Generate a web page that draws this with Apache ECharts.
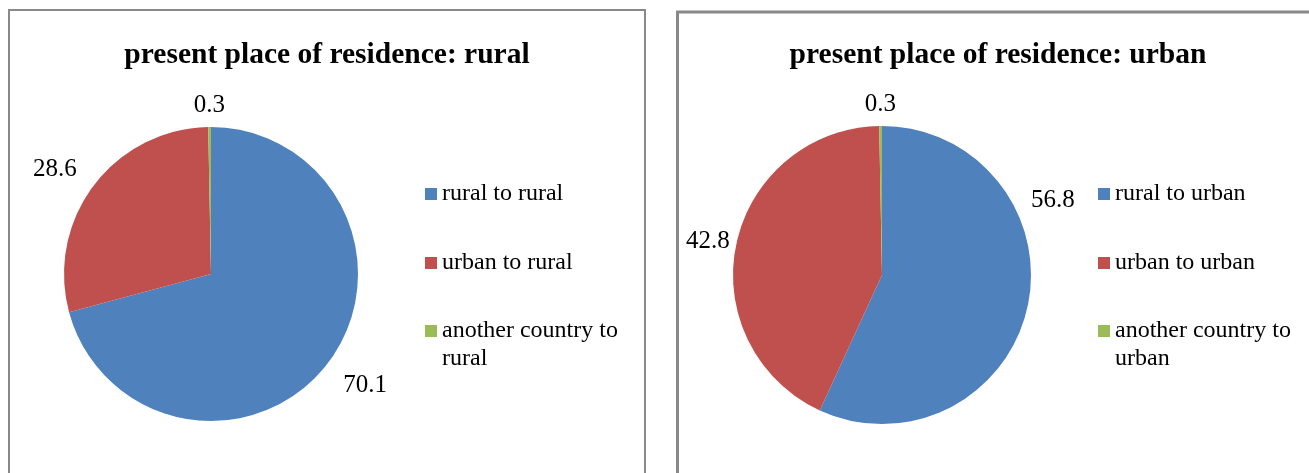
<!DOCTYPE html>
<html>
<head>
<meta charset="utf-8">
<title>present place of residence</title>
<script src="https://cdn.jsdelivr.net/npm/echarts@6/dist/echarts.min.js"></script>
<style>
  html, body { margin: 0; padding: 0; background: #fff; }
  #chart { width: 1309px; height: 473px; }
</style>
</head>
<body>
<div id="chart"></div>
<script>
const ruralNames = ['rural to rural', 'urban to rural', 'another country to rural'];
const ruralValues = [70.1, 28.6, 0.3];
const urbanNames = ['rural to urban', 'urban to urban', 'another country to urban'];
const urbanValues = [56.8, 42.8, 0.3];
const titles = ['present place of residence: rural', 'present place of residence: urban'];

const colors = ['#4f81bd', '#c0504d', '#9bbb59'];
const serif = "'Liberation Serif', 'Times New Roman', serif";

(function () {
  const chart = echarts.init(document.getElementById('chart'))

  // put each value label just outside its slice, like Excel's "outside end"
  function outsideEnd(values, cx, cy, r, gaps, shift) {
    const total = values.reduce((a, b) => a + b, 0)
    return function (p) {
      const i = p.dataIndex
      let before = 0
      for (let k = 0; k < i; k++) before += values[k]
      const mid = (before + values[i] / 2) / total * Math.PI * 2
      const dx = Math.sin(mid), dy = -Math.cos(mid)
      const w = p.labelRect.width, h = p.labelRect.height
      const d = r + gaps[i] + Math.abs(dx) * w / 2 + Math.abs(dy) * h / 2
      const s = (shift && shift[i]) || [0, 0]
      return {
        x: cx + dx * d + s[0],
        y: cy + dy * d + s[1],
        align: 'center',
        verticalAlign: 'middle'
      }
    }
  }

  function pie(names, values, cx, cy, r, gaps, shift) {
    return {
      type: 'pie',
      center: [cx, cy],
      radius: r,
      startAngle: 90,
      clockwise: true,
      avoidLabelOverlap: false,
      itemStyle: { borderWidth: 0 },
      label: {
        show: true,
        position: 'outside',
        formatter: '{c}',
        color: '#000',
        fontFamily: serif,
        fontSize: 25
      },
      labelLine: { show: false, length: 20, length2: 0 },
      labelLayout: outsideEnd(values, cx, cy, r, gaps, shift),
      emphasis: { disabled: true },
      data: names.map((n, i) => ({ name: n, value: values[i] }))
    }
  }

  const legendText = { color: '#000', fontFamily: serif, fontSize: 24, lineHeight: 28 }

  function legends(names, left) {
    return [
      {
        data: names.slice(0, 2),
        orient: 'vertical',
        left: left,
        top: 180,
        padding: 0,
        icon: 'rect',
        itemWidth: 12,
        itemHeight: 12,
        itemGap: 41,
        selectedMode: false,
        textStyle: legendText
      },
      {
        // leading blank line keeps the marker level with the first wrapped line
        data: names.slice(2),
        orient: 'vertical',
        left: left,
        top: 289,
        padding: 0,
        icon: 'rect',
        itemWidth: 12,
        itemHeight: 12,
        selectedMode: false,
        formatter: name => '\n' + name,
        textStyle: Object.assign({}, legendText, { width: 190, overflow: 'break' })
      }
    ]
  }

  const options = {
    animation: false,
    color: colors,
    title: titles.map((t, i) => ({
      text: t,
      left: i === 0 ? 327 : 998,
      top: 38,
      padding: 0,
      textAlign: 'center',
      textStyle: { color: '#000', fontFamily: serif, fontSize: 29.5, fontWeight: 'bold', lineHeight: 34 }
    })),
    legend: legends(ruralNames, 425).concat(legends(urbanNames, 1098)),
    graphic: [
      { type: 'rect', shape: { x: 9, y: 10, width: 636, height: 520 }, style: { fill: 'none', stroke: '#898989', lineWidth: 2 } },
      { type: 'rect', shape: { x: 677.5, y: 12, width: 700, height: 520 }, style: { fill: 'none', stroke: '#898989', lineWidth: 3 } }
    ],
    series: [
      pie(ruralNames, ruralValues, 211, 274, 147, [17, 17, 9], [[4, -3], [-5, 9], [0, 0]]),
      pie(urbanNames, urbanValues, 882, 275, 149, [12, 5, 9], [[-10, -114], [0, 3], [0, 0]])
    ]
  }

  chart.setOption(options)

  window.addEventListener('resize', function () {
    chart.resize()
  })
})()
</script>
</body>
</html>
